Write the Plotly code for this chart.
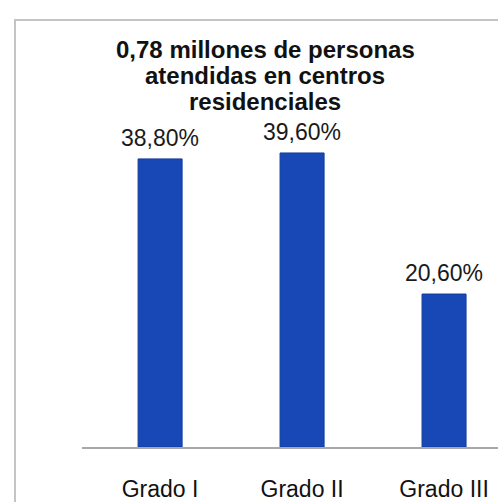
import plotly.graph_objects as go

# Share of people attended in residential centres, by dependency grade
categories = ["Grado I", "Grado II", "Grado III"]
shares = [38.8, 39.6, 20.6]
share_labels = ["38,80%", "39,60%", "20,60%"]
title_lines = ["0,78 millones de personas", "atendidas en centros", "residenciales"]

BAR_COLOR = "#1848b5"
FONT = "Liberation Sans, Arial, sans-serif"

# plot area geometry (pixels) used to place the heading in paper units
PLOT_LEFT, PLOT_WIDTH = 82, 416
PLOT_BOTTOM, PLOT_HEIGHT = 470, 320

fig = go.Figure()
fig.add_trace(go.Bar(
    x=categories,
    y=shares,
    width=0.31,
    marker=dict(color=BAR_COLOR, line=dict(color="#123c9f", width=1)),
    hoverinfo="skip",
))

# value labels above each bar
for cat, val, lab in zip(categories, shares, share_labels):
    fig.add_annotation(
        x=cat, y=val, text=lab, showarrow=False,
        xanchor="center", yanchor="bottom", yshift=7, borderpad=0,
        font=dict(family=FONT, size=23, color="#1a1a1a"),
    )

# three-line bold heading, tighter line spacing than the default title
title_x = (265 - PLOT_LEFT) / PLOT_WIDTH
for i, line in enumerate(title_lines):
    py = 42 + 28 * i
    fig.add_annotation(
        xref="paper", yref="paper",
        x=title_x, y=(PLOT_BOTTOM - py) / PLOT_HEIGHT,
        text="<b>" + line + "</b>", showarrow=False,
        xanchor="center", yanchor="middle", borderpad=0,
        font=dict(family=FONT, size=24, color="#111111"),
    )

# outer frame of the chart panel
fig.add_shape(
    type="rect", xref="paper", yref="paper",
    x0=(15 - PLOT_LEFT) / PLOT_WIDTH, y0=-0.3,
    x1=1.05, y1=(PLOT_BOTTOM - 10) / PLOT_HEIGHT,
    line=dict(color="#c4c4c4", width=2), fillcolor="rgba(0,0,0,0)",
    layer="above",
)

fig.update_layout(
    width=498, height=502,
    margin=dict(l=PLOT_LEFT, r=0, t=150, b=32),
    paper_bgcolor="white", plot_bgcolor="rgba(0,0,0,0)",
    showlegend=False,
    xaxis=dict(
        range=[-0.55, 2.38], showgrid=False, zeroline=False,
        showline=True, linecolor="#a8a8a8", linewidth=1.5,
        ticks="", ticklabelstandoff=21,
        tickfont=dict(family=FONT, size=23, color="#111111"),
    ),
    yaxis=dict(
        range=[0, 40], visible=False, showgrid=False, zeroline=False,
    ),
)

fig.write_html("out.html")
